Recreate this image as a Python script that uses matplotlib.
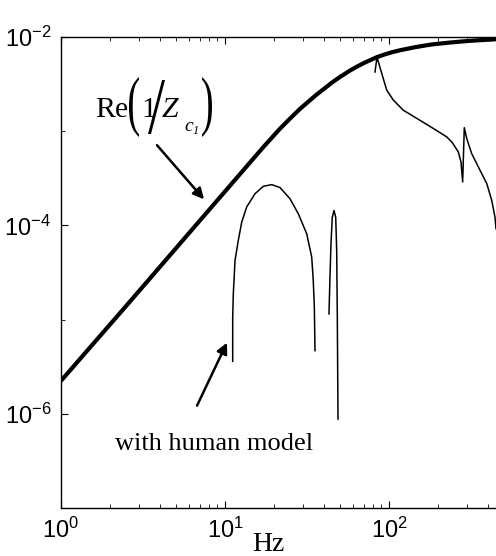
import matplotlib
matplotlib.use("Agg")
import matplotlib.pyplot as plt
import matplotlib.transforms as mtransforms
from matplotlib.ticker import LogLocator, NullFormatter
from matplotlib.textpath import TextPath
from matplotlib.patches import PathPatch
from matplotlib.font_manager import FontProperties

# Re(1/Zc1)
freq_re = [1.0, 2.63, 7.04, 17.1, 21.6, 24.9, 28.7, 35.9, 45.6, 50.2, 57.9,
           63.8, 71.4, 84.5, 94.6, 104.3, 117, 144, 165.8, 185, 235, 299,
           358.9, 449, 1000]
val_re = [2.24e-6, 1.55e-5, 1.13e-4, 6.76e-4, 1.06e-3, 1.36e-3, 1.73e-3,
          2.42e-3, 3.35e-3, 3.76e-3, 4.41e-3, 4.85e-3, 5.36e-3, 6.12e-3,
          6.55e-3, 6.89e-3, 7.24e-3, 7.79e-3, 8.12e-3, 8.36e-3, 8.73e-3,
          9.06e-3, 9.25e-3, 9.46e-3, 9.7e-3]

# with human model: three separate pieces
freq_h1 = [11.14, 11.14, 11.24, 11.51, 12.05, 12.64, 13.56, 15.24, 17.13,
           19.27, 21.65, 24.90, 27.99, 31.49, 33.79, 34.53, 35.06, 35.38]
val_h1 = [3.60e-6, 1.06e-5, 1.88e-5, 4.24e-5, 6.92e-5, 1.08e-4, 1.57e-4,
          2.17e-4, 2.60e-4, 2.71e-4, 2.52e-4, 1.92e-4, 1.33e-4, 8.16e-5,
          4.60e-5, 2.60e-5, 1.35e-5, 4.68e-6]

freq_h2 = [43.06, 43.66, 44.28, 45.09, 46.21, 47.32, 47.98, 48.40, 48.87]
val_h2 = [1.15e-5, 2.82e-5, 6.38e-5, 1.22e-4, 1.44e-4, 1.22e-4, 5.42e-5,
          1.06e-5, 8.79e-7]

freq_h3 = [82.18, 84.49, 90.29, 96.82, 106.2, 122.2, 147.5, 186.2, 224.9,
           242.2, 264.6, 274.8, 281.3, 287.8, 297.8, 319.2, 358.9, 394.5,
           422.8, 443.0, 449.2]
val_h3 = [4.25e-3, 6.12e-3, 4.11e-3, 2.73e-3, 2.14e-3, 1.67e-3, 1.37e-3,
          1.07e-3, 8.70e-4, 7.64e-4, 6.03e-4, 4.71e-4, 2.89e-4, 1.09e-3,
          8.36e-4, 5.79e-4, 3.85e-4, 2.78e-4, 1.85e-4, 1.22e-4, 9.23e-5]

x_ticks = [1, 10, 100]
y_ticks = [1e-6, 1e-4, 1e-2]

W, H = 496, 556
plt.rcParams['font.family'] = ['Liberation Sans', 'DejaVu Sans']
serif = ['Liberation Serif', 'DejaVu Serif']

fig = plt.figure(figsize=(W / 100, H / 100), dpi=100)
# the original plot runs off the right edge of the scan
ax = fig.add_axes([61 / W, 48 / H, 492 / W, 471 / H])

ax.loglog(freq_re, val_re, color='k', lw=3.0, solid_capstyle='butt')
for f, v in [(freq_h1, val_h1), (freq_h2, val_h2), (freq_h3, val_h3)]:
    ax.loglog(f, v, color='k', lw=1.1)

ax.set_xlim(1, 1000)
ax.set_ylim(1e-7, 1e-2)

ax.set_xticks(x_ticks)
ax.set_yticks(y_ticks)
ax.yaxis.set_minor_locator(LogLocator(base=10, subs=(1.0,), numticks=20))
ax.yaxis.set_minor_formatter(NullFormatter())
ax.xaxis.set_minor_locator(LogLocator(base=10, subs=range(2, 10), numticks=20))
ax.xaxis.set_minor_formatter(NullFormatter())

ax.tick_params(which='both', direction='in', top=True, right=True)
ax.tick_params(which='major', length=5, width=0.8, labelsize=17, pad=7)
ax.tick_params(which='minor', length=3, width=0.6)
for s in ax.spines.values():
    s.set_linewidth(1.0)


def ptext(x, y, s, size, style='normal'):
    # text placed by pixel position (origin top-left), baseline aligned
    fig.text(x / W, 1 - y / H, s, fontsize=size, family=serif, style=style,
             ha='left', va='baseline')


def tall_glyph(ch, x0, x1, y0, y1):
    # a glyph stretched into a pixel box, for the big delimiters
    p = TextPath((0, 0), ch, size=100, prop=FontProperties(family=serif))
    e = p.get_extents()
    tr = (mtransforms.Affine2D().translate(-e.x0, -e.y0)
          .scale((x1 - x0) / e.width, (y1 - y0) / e.height)
          .translate(x0, H - y1).scale(1 / 100) + fig.dpi_scale_trans)
    fig.add_artist(PathPatch(p, transform=tr, fc='k', ec='none'))


# Re(1/Z_c1) label with tall parentheses
ptext(95, 117, 'Re', 21.5)
tall_glyph('(', 129, 139, 77, 137)
ptext(141, 117, '1', 21.5)
tall_glyph('/', 148, 165, 80, 134)
ptext(162, 117, 'Z', 21.5, 'italic')
ptext(184, 131, 'c', 14, 'italic')
ptext(193, 134, '1', 9, 'italic')
tall_glyph(')', 202, 212, 77, 137)

ax.annotate('', xy=(7.45, 1.89e-4), xytext=(3.85, 7.1e-4),
            arrowprops=dict(arrowstyle='-|>', color='k', lw=1.8,
                            mutation_scale=16, shrinkA=0, shrinkB=0))
ax.annotate('', xy=(10.28, 5.69e-6), xytext=(6.75, 1.22e-6),
            arrowprops=dict(arrowstyle='-|>', color='k', lw=1.8,
                            mutation_scale=16, shrinkA=0, shrinkB=0))
ax.text(2.13, 4.14e-7, 'with human model', fontsize=19, family=serif,
        ha='left', va='baseline')

fig.text(268 / W, 5 / H, 'Hz', fontsize=20, family=serif,
         ha='center', va='baseline')

fig.savefig('out.png', dpi=100)
